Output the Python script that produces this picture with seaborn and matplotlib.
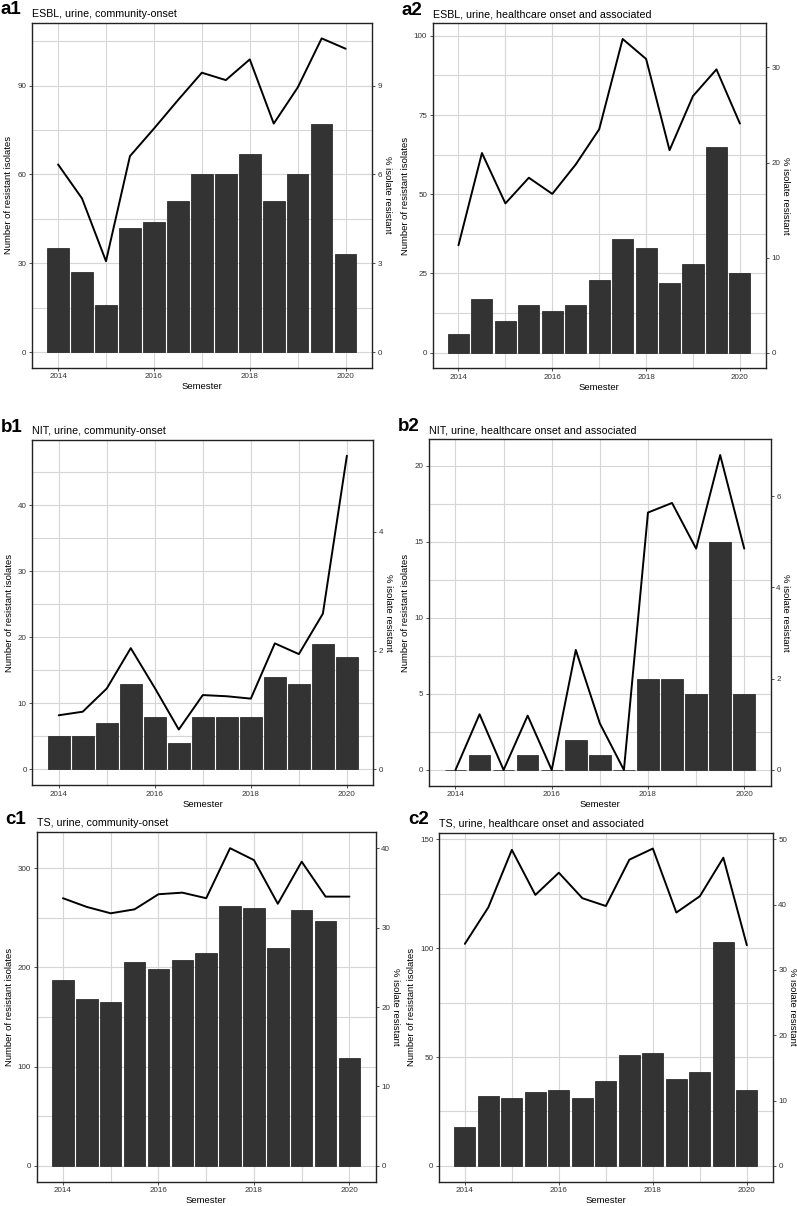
import matplotlib
matplotlib.use("Agg")
import matplotlib.pyplot as plt
import seaborn as sns

sns.set_theme(style="white")
plt.rcParams['font.family'] = ['Liberation Sans', 'DejaVu Sans']
plt.rcParams['text.color'] = 'black'
plt.rcParams['axes.labelcolor'] = 'black'

# semesters (first and second half of each year)
semesters = [2014, 2014.5, 2015, 2015.5, 2016, 2016.5, 2017, 2017.5,
             2018, 2018.5, 2019, 2019.5, 2020]

# a1 ESBL community-onset
a1_count = [35, 27, 16, 42, 44, 51, 60, 60, 67, 51, 60, 77, 33]
a1_pct = [6.34, 5.19, 3.07, 6.62, 7.55, 8.51, 9.44, 9.19, 9.89, 7.72, 8.94, 10.6, 10.25]
# a2 ESBL healthcare
a2_count = [6, 17, 10, 15, 13, 15, 23, 36, 33, 22, 28, 65, 25]
a2_pct = [11.3, 21.0, 15.7, 18.4, 16.7, 19.8, 23.5, 33.0, 30.9, 21.3, 27.0, 29.8, 24.1]
# b1 NIT community-onset
b1_count = [5, 5, 7, 13, 8, 4, 8, 8, 8, 14, 13, 19, 17]
b1_pct = [0.91, 0.97, 1.36, 2.04, 1.37, 0.67, 1.25, 1.23, 1.19, 2.12, 1.94, 2.62, 5.28]
# b2 NIT healthcare
b2_count = [0, 1, 0, 1, 0, 2, 1, 0, 6, 6, 5, 15, 5]
b2_pct = [0, 1.22, 0, 1.19, 0, 2.63, 1.02, 0, 5.64, 5.85, 4.85, 6.9, 4.85]
# c1 TS community-onset
c1_count = [187, 168, 165, 205, 198, 207, 214, 262, 260, 219, 258, 247, 109]
c1_pct = [33.7, 32.6, 31.8, 32.3, 34.2, 34.4, 33.7, 40.0, 38.5, 33.0, 38.3, 33.9, 33.9]
# c2 TS healthcare
c2_count = [18, 32, 31, 34, 35, 31, 39, 51, 52, 40, 43, 103, 35]
c2_pct = [34.0, 39.6, 48.4, 41.5, 44.9, 41.0, 39.8, 46.9, 48.6, 38.8, 41.3, 47.2, 33.8]

panels = [
    ("a1", "ESBL, urine, community-onset", a1_count, a1_pct, 10,
     [0, 30, 60, 90], [0, 3, 6, 9], (31.7, 22.7, 372, 367.7)),
    ("a2", "ESBL, urine, healthcare onset and associated", a2_count, a2_pct, 3,
     [0, 25, 50, 75, 100], [0, 10, 20, 30], (432.7, 23.3, 765.7, 368.3)),
    ("b1", "NIT, urine, community-onset", b1_count, b1_pct, 9,
     [0, 10, 20, 30, 40], [0, 2, 4], (32.3, 440, 373.3, 785)),
    ("b2", "NIT, urine, healthcare onset and associated", b2_count, b2_pct, 3,
     [0, 5, 10, 15, 20], [0, 2, 4, 6], (429, 439.3, 770.7, 785.7)),
    ("c1", "TS, urine, community-onset", c1_count, c1_pct, 8,
     [0, 100, 200, 300], [0, 10, 20, 30, 40], (36.7, 832.3, 375.7, 1181.7)),
    ("c2", "TS, urine, healthcare onset and associated", c2_count, c2_pct, 3,
     [0, 50, 100, 150], [0, 10, 20, 30, 40, 50], (439, 832.7, 772.7, 1181.7)),
]

W, H = 797, 1206
fig = plt.figure(figsize=(W / 100, H / 100), dpi=100)

for tag, title, count, pct, f, lticks, rticks, (l, t, r, b) in panels:
    ax = fig.add_axes([l / W, 1 - b / H, (r - l) / W, (b - t) / H])
    sns.barplot(x=semesters, y=count, native_scale=True, width=0.9,
                color="#333333", saturation=1, edgecolor="#1a1a1a",
                linewidth=0.5, errorbar=None, ax=ax, zorder=2)
    top = max(max(count), max(pct) * f)
    lo, hi = -0.05 * top, 1.05 * top
    ax.set_xlim(2013.45, 2020.55)
    ax.set_xticks([2014, 2016, 2018, 2020])
    ax.set_xticklabels(["2014", "2016", "2018", "2020"])
    ax.set_xticks([2015, 2017, 2019], minor=True)
    ax.set_yticks(lticks)
    ax.set_yticks([v + (lticks[1] - lticks[0]) / 2 for v in lticks], minor=True)
    ax.set_ylim(lo, hi)
    ax.grid(which="both", color="#d6d6d6", linewidth=0.8)
    ax.set_axisbelow(True)
    ax.tick_params(which="major", length=2.5, width=0.6, color="#333333",
                   labelsize=5.8, labelcolor="#333333", pad=1.5, bottom=True, left=True)
    ax.tick_params(which="minor", length=0)
    for s in ax.spines.values():
        s.set_color("#222222")
        s.set_linewidth(1.0)
    ax.set_xlabel("Semester", fontsize=6.8, labelpad=1.5)
    ax.set_ylabel("Number of resistant isolates", fontsize=6.8, labelpad=3)

    ax2 = ax.twinx()
    sns.lineplot(x=semesters, y=pct, color="black", linewidth=1.4, ax=ax2)
    ax2.set_yticks(rticks)
    ax2.set_ylim(lo / f, hi / f)
    ax2.tick_params(length=2.5, width=0.6, color="#333333", labelsize=5.8,
                    labelcolor="#333333", pad=1.5, right=True)
    for s in ax2.spines.values():
        s.set_visible(False)
    ax2.set_ylabel("% isolate resistant", fontsize=6.8, rotation=270, labelpad=7)

    fig.text(l / W, 1 - (t - 6) / H, title, fontsize=7.7, ha="left", va="baseline")
    fig.text((l - 31) / W, 1 - (t - 8.5) / H, tag, fontsize=13.5,
             fontweight="bold", ha="left", va="baseline")

fig.savefig("out.png", dpi=100)
